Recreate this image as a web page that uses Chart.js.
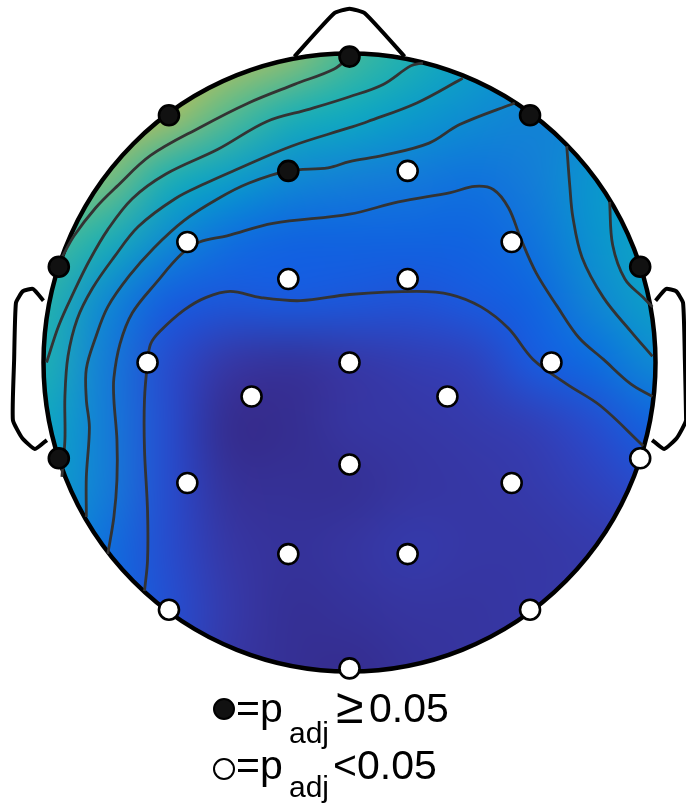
<!DOCTYPE html>
<html>
<head>
<meta charset="utf-8">
<script src="https://cdn.jsdelivr.net/npm/chart.js@4.4.1/dist/chart.umd.min.js"></script>
<style>
  html, body { margin: 0; padding: 0; background: #fff; }
  #wrap { position: relative; width: 686px; height: 809px; overflow: hidden; }
  #topo { position: absolute; left: 0; top: 0; }
  .key { position: absolute; font-family: 'Liberation Sans', Arial, sans-serif; color: #000; white-space: nowrap; line-height: 1; }
  .big { font-size: 41px; }
  .sub { font-size: 30px; }
  .sym { font-size: 50px; }
  .dot { position: absolute; width: 18px; height: 18px; border: 2.5px solid #000; border-radius: 50%; }
</style>
</head>
<body>
<div id="wrap">
  <canvas id="topo" width="686" height="690"></canvas>
  <!-- legend: filled = not significant, open = significant -->
  <div class="dot" style="left:213px; top:698px; background:#111;"></div>
  <div class="key big" style="left:236px; top:688px;">=p</div>
  <div class="key sub" style="left:289px; top:718px;">adj</div>
  <div class="key sym" style="left:336px; top:681px;">≥</div>
  <div class="key big" style="left:369px; top:688px;">0.05</div>

  <div class="dot" style="left:213px; top:758px; background:#fff;"></div>
  <div class="key big" style="left:236px; top:745px;">=p</div>
  <div class="key sub" style="left:289px; top:772px;">adj</div>
  <div class="key big" style="left:333px; top:745px;">&lt;</div>
  <div class="key big" style="left:357px; top:745px;">0.05</div>
</div>

<script>
// electrode positions (head radius = 1) and whether p_adj < 0.05
const electrodeX = [0, -0.59, 0.59, -0.20, 0.19, -0.53, 0.53, -0.95, 0.95, -0.20, 0.19, -0.66, 0, 0.66,
                    -0.32, 0.32, -0.95, 0.95, -0.53, 0, 0.53, -0.20, 0.19, -0.59, 0.59, 0];
const electrodeY = [0.99, 0.80, 0.80, 0.62, 0.62, 0.39, 0.39, 0.31, 0.31, 0.27, 0.27, 0, 0, 0,
                    -0.11, -0.11, -0.31, -0.31, -0.39, -0.33, -0.39, -0.62, -0.62, -0.80, -0.80, -0.99];
const significant = [false, false, false, false, true, true, true, false, false, true, true, true, true, true,
                     true, true, false, true, true, true, true, true, true, true, true, true];

// interpolated map: rows from y = 1 down to y = -1, columns x = -1 .. 1
const gridX = [-1, -0.8, -0.6, -0.4, -0.2, 0, 0.2, 0.4, 0.6, 0.8, 1];
const gridY = [1, 0.8, 0.6, 0.4, 0.2, 0, -0.2, -0.4, -0.6, -0.8, -1];
const fieldRows = [
  [0.80, 0.80, 0.78, 0.73, 0.67, 0.57, 0.50, 0.42, 0.36, 0.34, 0.36],
  [0.78, 0.76, 0.70, 0.59, 0.50, 0.46, 0.40, 0.35, 0.32, 0.33, 0.38],
  [0.68, 0.64, 0.50, 0.42, 0.34, 0.31, 0.29, 0.27, 0.30, 0.38, 0.42],
  [0.58, 0.50, 0.35, 0.26, 0.22, 0.22, 0.22, 0.22, 0.27, 0.37, 0.44],
  [0.52, 0.34, 0.20, 0.17, 0.18, 0.17, 0.16, 0.18, 0.22, 0.33, 0.42],
  [0.50, 0.30, 0.14, 0.06, 0.04, 0.06, 0.08, 0.10, 0.18, 0.25, 0.34],
  [0.45, 0.30, 0.14, 0.02, 0.02, 0.05, 0.06, 0.07, 0.09, 0.14, 0.22],
  [0.42, 0.30, 0.14, 0.04, 0.03, 0.03, 0.05, 0.06, 0.07, 0.10, 0.14],
  [0.38, 0.26, 0.14, 0.06, 0.04, 0.05, 0.07, 0.06, 0.06, 0.07, 0.08],
  [0.30, 0.25, 0.15, 0.07, 0.03, 0.04, 0.05, 0.05, 0.06, 0.07, 0.08],
  [0.25, 0.20, 0.14, 0.06, 0.03, 0.02, 0.04, 0.05, 0.06, 0.07, 0.08]
];

// parula-like colour stops [value, r, g, b]
const colourStops = [
  [0.00, 52, 40, 132], [0.06, 54, 55, 165], [0.12, 45, 70, 200], [0.18, 25, 90, 222],
  [0.24, 12, 105, 225], [0.30, 20, 125, 215], [0.38, 10, 150, 205], [0.46, 15, 170, 192],
  [0.54, 45, 182, 165], [0.62, 110, 190, 130], [0.70, 165, 190, 100], [0.80, 220, 185, 75],
  [1.00, 249, 251, 14]
];

// contour lines
const contourK1 = [[0, 0.99], [-0.05, 0.95], [-0.18, 0.9], [-0.33, 0.84], [-0.49, 0.76], [-0.65, 0.67],
  [-0.76, 0.57], [-0.83, 0.5], [-0.9, 0.41], [-0.94, 0.34]];
const contourK2 = [[0.24, 0.97], [0.2, 0.96], [0.11, 0.9], [0, 0.86], [-0.13, 0.82], [-0.27, 0.78], [-0.43, 0.69],
  [-0.6, 0.61], [-0.71, 0.53], [-0.79, 0.43], [-0.85, 0.33], [-0.9, 0.23], [-0.95, 0.12], [-0.99, 0]];
const contourK3 = [[0.37, 0.92], [0.22, 0.84], [0.06, 0.78], [0, 0.76], [-0.19, 0.7], [-0.38, 0.62], [-0.47, 0.58],
  [-0.57, 0.53], [-0.69, 0.44], [-0.77, 0.34], [-0.84, 0.24], [-0.89, 0.14], [-0.92, 0.02], [-0.93, -0.11],
  [-0.93, -0.25], [-0.94, -0.37]];
const contourK4 = [[0.54, 0.84], [0.36, 0.77], [0.26, 0.71], [0.11, 0.67], [0, 0.65], [-0.07, 0.63], [-0.2, 0.62],
  [-0.33, 0.58], [-0.43, 0.53], [-0.54, 0.46], [-0.64, 0.37], [-0.72, 0.28], [-0.79, 0.18], [-0.83, 0.08],
  [-0.86, -0.02], [-0.86, -0.12], [-0.85, -0.21], [-0.86, -0.37], [-0.86, -0.5]];
const contourK5 = [[0.99, -0.11], [0.92, -0.07], [0.83, 0.01], [0.75, 0.08], [0.68, 0.18], [0.61, 0.29], [0.56, 0.4],
  [0.52, 0.5], [0.47, 0.56], [0.41, 0.57], [0.33, 0.55], [0.16, 0.52], [0, 0.48], [-0.25, 0.45], [-0.4, 0.41],
  [-0.49, 0.39], [-0.55, 0.35], [-0.63, 0.26], [-0.71, 0.16], [-0.75, 0.06], [-0.77, -0.05], [-0.77, -0.12],
  [-0.76, -0.25], [-0.76, -0.38], [-0.77, -0.5], [-0.79, -0.62]];
const contourK6 = [[0.96, -0.27], [0.82, -0.14], [0.71, -0.07], [0.6, 0.01], [0.52, 0.11], [0.43, 0.18], [0.33, 0.22],
  [0.22, 0.23], [0, 0.22], [-0.16, 0.2], [-0.29, 0.21], [-0.39, 0.23], [-0.47, 0.21], [-0.54, 0.17], [-0.62, 0.1],
  [-0.65, 0.06], [-0.66, 0], [-0.67, -0.12], [-0.67, -0.28], [-0.66, -0.48], [-0.66, -0.64], [-0.67, -0.74]];
const contourR1 = [[0.71, 0.7], [0.72, 0.57], [0.73, 0.47], [0.76, 0.34], [0.83, 0.21], [0.92, 0.1], [0.99, 0.02]];
const contourR2 = [[0.85, 0.52], [0.86, 0.38], [0.9, 0.27], [0.96, 0.21], [0.99, 0.18]];

// head furniture
const noseLine = [[-0.18, 0.99], [-0.05, 1.13], [0, 1.145], [0.05, 1.13], [0.18, 0.99]];
const leftEar = [[-1.0, 0.2], [-1.034, 0.238], [-1.067, 0.231], [-1.09, 0.193], [-1.096, 0.008],
  [-1.1, -0.186], [-1.07, -0.244], [-1.028, -0.28], [-0.989, -0.251]];
const rightEar = leftEar.map(([a, b]) => [-a, b]);

function colourAt(v) {
    for (let i = 1; i < colourStops.length; i++) {
        if (v <= colourStops[i][0]) {
            const a = colourStops[i - 1], b = colourStops[i];
            const t = (v - a[0]) / (b[0] - a[0]);
            return [1, 2, 3].map(k => Math.round(a[k] + (b[k] - a[k]) * t));
        }
    }
    return colourStops[colourStops.length - 1].slice(1);
}

const toPoints = arr => arr.map(([a, b]) => ({ x: a, y: b }));

const topoPlugin = {
    id: 'topo',
    beforeDatasetsDraw(chart) {
        const { ctx, scales: { x, y } } = chart;
        const cx = x.getPixelForValue(0), cy = y.getPixelForValue(0);
        const rx = x.getPixelForValue(1) - cx, ry = cy - y.getPixelForValue(1);

        const nCols = gridX.length, nRows = gridY.length;
        const off = document.createElement('canvas');
        off.width = nCols; off.height = nRows;
        const octx = off.getContext('2d');
        const img = octx.createImageData(nCols, nRows);
        fieldRows.forEach((row, r) => row.forEach((v, c) => {
            const [R, G, B] = colourAt(v);
            const k = (r * nCols + c) * 4;
            img.data[k] = R; img.data[k + 1] = G; img.data[k + 2] = B; img.data[k + 3] = 255;
        }));
        octx.putImageData(img, 0, 0);

        const half = (gridX[1] - gridX[0]) / 2;
        const left = x.getPixelForValue(gridX[0] - half);
        const right = x.getPixelForValue(gridX[nCols - 1] + half);
        const top = y.getPixelForValue(gridY[0] + half);
        const bottom = y.getPixelForValue(gridY[nRows - 1] - half);

        ctx.save();
        ctx.beginPath();
        ctx.ellipse(cx, cy, rx, ry, 0, 0, Math.PI * 2);
        ctx.clip();
        ctx.imageSmoothingEnabled = true;
        ctx.imageSmoothingQuality = 'high';
        ctx.drawImage(off, left, top, right - left, bottom - top);
        ctx.restore();

        ctx.save();
        ctx.beginPath();
        ctx.ellipse(cx, cy, rx, ry, 0, 0, Math.PI * 2);
        ctx.lineWidth = 4.5;
        ctx.strokeStyle = '#000';
        ctx.stroke();
        ctx.restore();
    }
};

const contourSet = [contourK1, contourK2, contourK3, contourK4, contourK5, contourK6, contourR1, contourR2];
const contourDatasets = contourSet.map(c => ({
    data: toPoints(c),
    showLine: true,
    borderColor: '#333333',
    borderWidth: 2.8,
    pointRadius: 0,
    tension: 0.35,
    order: 3
}));
const outlineDatasets = [noseLine, leftEar, rightEar].map(c => ({
    data: toPoints(c),
    showLine: true,
    borderColor: '#000',
    borderWidth: 4,
    pointRadius: 0,
    tension: 0.15,
    order: 2
}));

const openIdx = significant.map((s, i) => s ? i : -1).filter(i => i >= 0);
const filledIdx = significant.map((s, i) => s ? -1 : i).filter(i => i >= 0);

new Chart(document.getElementById('topo'), {
    type: 'scatter',
    data: {
        datasets: [
            {
                data: filledIdx.map(i => ({ x: electrodeX[i], y: electrodeY[i] })),
                pointRadius: 10, pointBorderWidth: 2.6,
                pointBackgroundColor: '#111', pointBorderColor: '#000', order: 0
            },
            {
                data: openIdx.map(i => ({ x: electrodeX[i], y: electrodeY[i] })),
                pointRadius: 10, pointBorderWidth: 2.6,
                pointBackgroundColor: '#fff', pointBorderColor: '#000', order: 0
            },
            ...outlineDatasets,
            ...contourDatasets
        ]
    },
    options: {
        responsive: false,
        animation: false,
        events: [],
        clip: false,
        layout: { padding: 0, autoPadding: false },
        scales: {
            x: { type: 'linear', min: -349.5 / 306, max: 336.5 / 306, display: false },
            y: { type: 'linear', min: -327.5 / 309, max: 362.5 / 309, display: false }
        },
        plugins: { legend: { display: false }, tooltip: { enabled: false } }
    },
    plugins: [topoPlugin]
});
</script>
</body>
</html>
